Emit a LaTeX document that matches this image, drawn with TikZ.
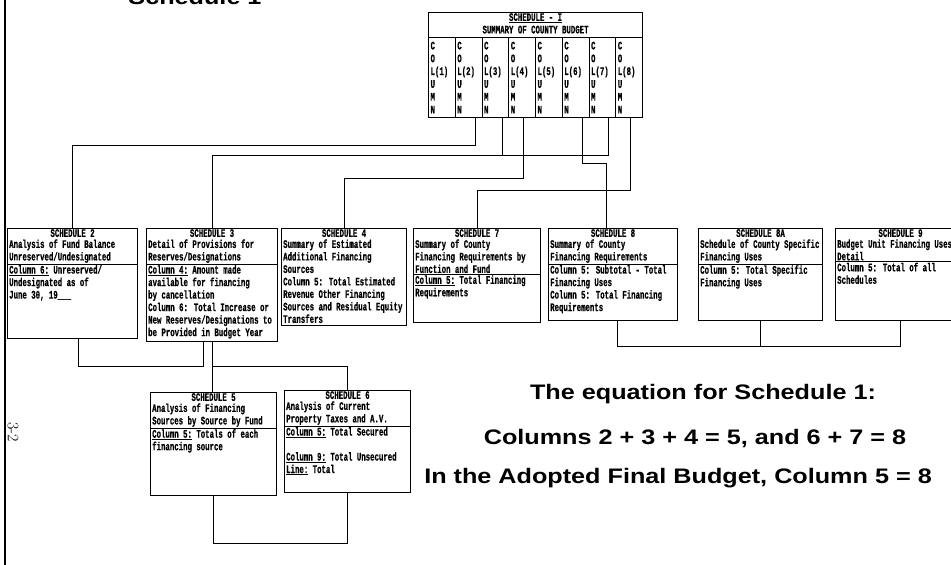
\documentclass[tikz,border=0pt]{standalone}
\usepackage{fontspec}
\usepackage{tikz}
\usetikzlibrary{calc}
\newfontfamily\dotfont[FakeStretch=0.64,FakeBold=0.6]{Liberation Mono}
\newfontfamily\armfont[FakeStretch=1.2]{Liberation Sans}

\begin{document}
\begin{tikzpicture}[x=1pt,y=-1pt,
    sbox/.style={draw, line width=1.1pt, inner sep=0pt, anchor=north west},
    stitle/.style={anchor=north, inner sep=1pt, font=\dotfont\bfseries\fontsize{11.5}{12.5}\selectfont},
    stext/.style={anchor=north west, align=left, inner xsep=2pt, inner ysep=1pt, font=\dotfont\bfseries\fontsize{11.5}{12.5}\selectfont},
    colbox/.style={draw, line width=1.1pt, anchor=north west, minimum width=26.75pt, minimum height=80pt, text width=22.75pt, inner xsep=2pt, inner ysep=0pt, align=left, font=\dotfont\bfseries\fontsize{11.5}{12.8}\selectfont},
    rule/.style={line width=0.8pt},
    link/.style={line width=1pt},
    bigtext/.style={font=\armfont\bfseries\fontsize{21}{24}\selectfont}]
    \useasboundingbox (0,0) rectangle (951,565);

    \draw[line width=2pt] (5,0) -- (5,565);
    \node[rotate=-90, font=\fontsize{16}{18}\selectfont] (pgno) at (13,432) {3-2};
    \node[bigtext, anchor=base] (title) at (195,4) {Schedule 1};

    \node[sbox, minimum width=214pt, minimum height=105pt] (s1) at (428,12) {};
    \node[stitle, align=center] (s1h) at (s1.north) {\underline{SCHEDULE - I}\\SUMMARY OF COUNTY BUDGET};
    \foreach \i in {1,...,8}
        \node[colbox] (c\i) at ({428+26.75*(\i-1)},37) {C\\O\\L(\i)\\U\\M\\N};

    \node[sbox, minimum width=130pt, minimum height=110pt] (s2) at (7,228) {};
    \node[stitle] (s2h) at (s2.north) {SCHEDULE 2};
    \node[stext] (s2a) at (s2h.south -| s2.west) {Analysis of Fund Balance\\Unreserved/Undesignated};
    \draw[rule] (s2a.south -| s2.west) -- (s2a.south -| s2.east);
    \node[stext] (s2b) at (s2a.south -| s2.west) {\underline{Column 6:} Unreserved/\\Undesignated as of\\June 30, 19\_\_\_};

    \node[sbox, minimum width=131pt, minimum height=113pt] (s3) at (146,228) {};
    \node[stitle] (s3h) at (s3.north) {SCHEDULE 3};
    \node[stext] (s3a) at (s3h.south -| s3.west) {Detail of Provisions for\\Reserves/Designations};
    \draw[rule] (s3a.south -| s3.west) -- (s3a.south -| s3.east);
    \node[stext] (s3b) at (s3a.south -| s3.west) {\underline{Column 4:} Amount made\\available for financing\\by cancellation\\Column 6: Total Increase or\\New Reserves/Designations to\\be Provided in Budget Year};

    \node[sbox, minimum width=125pt, minimum height=97pt] (s4) at (281,228) {};
    \node[stitle] (s4h) at (s4.north) {SCHEDULE 4};
    \node[stext] (s4a) at (s4h.south -| s4.west) {Summary of Estimated\\Additional Financing\\Sources\\Column 5: Total Estimated\\Revenue Other Financing\\Sources and Residual Equity\\Transfers};

    \node[sbox, minimum width=127pt, minimum height=94pt] (s7) at (413,228) {};
    \node[stitle] (s7h) at (s7.north) {SCHEDULE 7};
    \node[stext] (s7a) at (s7h.south -| s7.west) {Summary of County\\Financing Requirements by\\Function and Fund};
    \draw[rule] (s7a.south -| s7.west) -- (s7a.south -| s7.east);
    \node[stext] (s7b) at (s7a.south -| s7.west) {\underline{Column 5:} Total Financing\\Requirements};

    \node[sbox, minimum width=129pt, minimum height=92pt] (s8) at (548,228) {};
    \node[stitle] (s8h) at (s8.north) {SCHEDULE 8};
    \node[stext] (s8a) at (s8h.south -| s8.west) {Summary of County\\Financing Requirements};
    \draw[rule] (s8a.south -| s8.west) -- (s8a.south -| s8.east);
    \node[stext] (s8b) at (s8a.south -| s8.west) {Column 5: Subtotal - Total\\Financing Uses\\Column 5: Total Financing\\Requirements};

    \node[sbox, minimum width=124pt, minimum height=92pt] (s8a) at (698,228) {};
    \node[stitle] (s8ah) at (s8a.north) {SCHEDULE 8A};
    \node[stext] (s8aa) at (s8ah.south -| s8a.west) {Schedule of County Specific\\Financing Uses};
    \draw[rule] (s8aa.south -| s8a.west) -- (s8aa.south -| s8a.east);
    \node[stext] (s8ab) at (s8aa.south -| s8a.west) {Column 5: Total Specific\\Financing Uses};

    \node[sbox, minimum width=130pt, minimum height=92pt] (s9) at (835,228) {};
    \node[stitle] (s9h) at (s9.north) {SCHEDULE 9};
    \node[stext] (s9a) at (s9h.south -| s9.west) {Budget Unit Financing Uses\\Detail};
    \draw[rule] (s9a.south -| s9.west) -- (s9a.south -| s9.east);
    \node[stext] (s9b) at (s9a.south -| s9.west) {Column 5: Total of all\\Schedules};

    \node[sbox, minimum width=126pt, minimum height=103pt] (s5) at (150,392) {};
    \node[stitle] (s5h) at (s5.north) {SCHEDULE 5};
    \node[stext] (s5a) at (s5h.south -| s5.west) {Analysis of Financing\\Sources by Source by Fund};
    \draw[rule] (s5a.south -| s5.west) -- (s5a.south -| s5.east);
    \node[stext] (s5b) at (s5a.south -| s5.west) {\underline{Column 5:} Totals of each\\financing source};

    \node[sbox, minimum width=126pt, minimum height=102pt] (s6) at (284,390) {};
    \node[stitle] (s6h) at (s6.north) {SCHEDULE 6};
    \node[stext] (s6a) at (s6h.south -| s6.west) {Analysis of Current\\Property Taxes and A.V.};
    \draw[rule] (s6a.south -| s6.west) -- (s6a.south -| s6.east);
    \node[stext] (s6b) at (s6a.south -| s6.west) {\underline{Column 5:} Total Secured\\[12.5pt]\underline{Column 9:} Total Unsecured\\\underline{Line:} Total};

    \node[bigtext] (eq1) at (703,394) {The equation for Schedule 1:};
    \node[bigtext] (eq2) at (695,439) {Columns 2 + 3 + 4 = 5, and 6 + 7 = 8};
    \node[bigtext] (eq3) at (678,478) {In the Adopted Final Budget, Column 5 = 8};

    \coordinate (b2) at (0,145);
    \coordinate (b3) at (0,155);
    \coordinate (b6) at (0,163);
    \coordinate (b4) at (0,178);
    \coordinate (b8) at (0,190);
    \coordinate (bL) at (0,366);
    \coordinate (bR) at (0,346);
    \coordinate (bB) at (0,543);

    \draw[link] ([xshift=7pt]c2.south) coordinate (t2) -- (t2 |- b2) -| (s2.north);
    \draw[link] ([xshift=7pt]c3.south) coordinate (t3) -- (t3 |- b3) -| (s3.north);
    \draw[link] ([xshift=6pt]c7.south) coordinate (t7) -- (t7 |- b3) -- (t3 |- b3);
    \draw[link] ([xshift=1.5pt]c4.south) coordinate (t4) -- (t4 |- b4) -| (s4.north);
    \draw[link] ([xshift=7pt]c6.south) coordinate (t6) -- (t6 |- b6) -| ([xshift=-6.5pt]s8.north);
    \draw[link] ([xshift=1.5pt]c8.south) coordinate (t8) -- (t8 |- b8) -| (s7.north);

    \draw[link] ([xshift=6pt]s2.south) coordinate (u2) -- (u2 |- bL) -| ([xshift=-9pt]s3.south);
    \draw[link] (s3.south) -- (s3.south |- s5.north);
    \draw[link] (s3.south |- bL) -| (s6.north);
    \draw[link] (s5.south) -- (s5.south |- bB) -| (s6.south);
    \draw[link] ([xshift=4.5pt]s8.south) coordinate (u8) -- (u8 |- bR) -| (s9.south);
    \draw[link] (s8a.south) -- (s8a.south |- bR);
\end{tikzpicture}
\end{document}
